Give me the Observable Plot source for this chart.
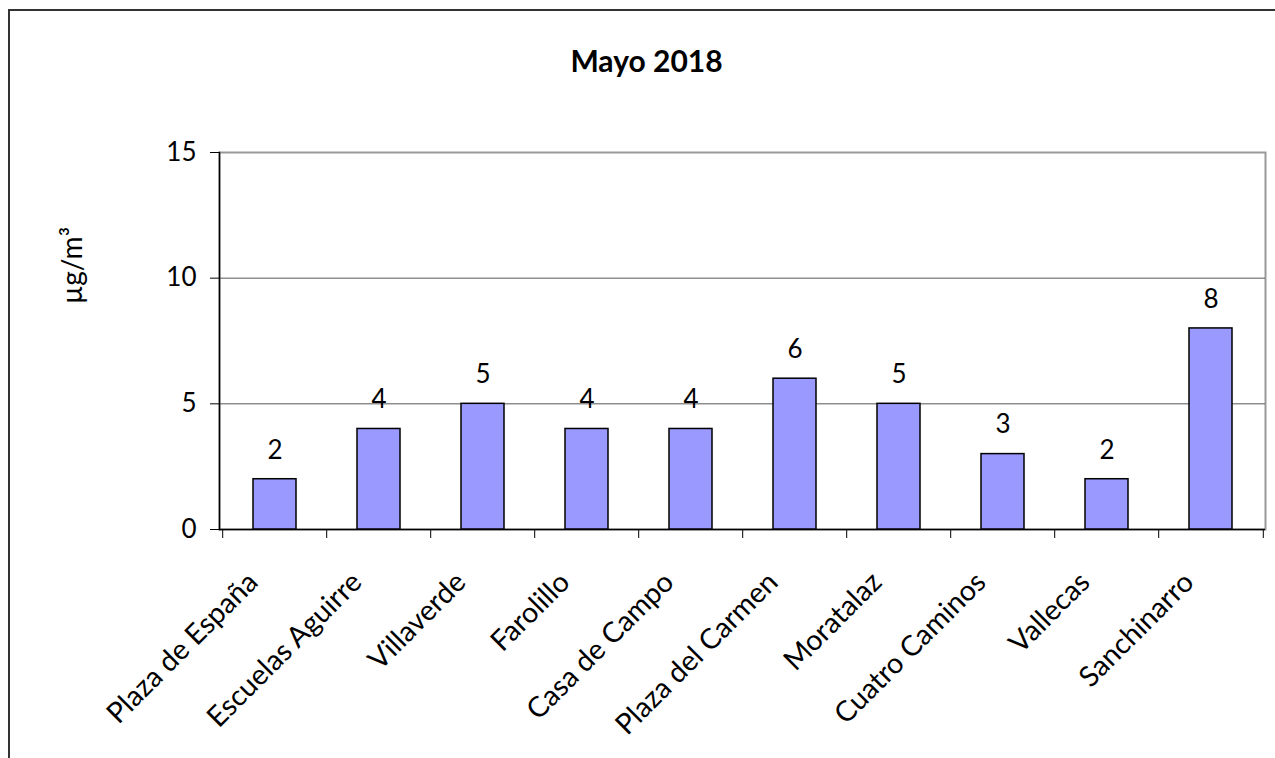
<!DOCTYPE html>
<html><head><meta charset="utf-8">
<script src="https://cdn.jsdelivr.net/npm/d3@7"></script>
<script src="https://cdn.jsdelivr.net/npm/@observablehq/plot@0.6"></script>
<style>
body{margin:0;background:#fff;font-family:Lato,sans-serif;overflow:hidden;}
#frame{position:absolute;left:8px;top:9px;width:1300px;height:800px;border-left:2px solid #333;border-top:2px solid #333;}
#title{position:absolute;left:9px;top:42px;width:1275px;line-height:36px;text-align:center;font-weight:bold;font-size:30px;color:#000;}
#chart{position:absolute;left:0;top:110px;}
</style></head>
<body>
<div id="frame"></div>
<div id="title">Mayo 2018</div>
<div id="chart"></div>
<script>
const stations = ["Plaza de España","Escuelas Aguirre","Villaverde","Farolillo","Casa de Campo","Plaza del Carmen","Moratalaz","Cuatro Caminos","Vallecas","Sanchinarro"];
const values = [2,4,5,4,4,6,5,3,2,8];
const yTicks = [0,5,10,15];
const gridValues = [5,10];
const yLabel = "µg/m³";

const data = stations.map((s,i)=>({station:s, value:values[i]}));
const W = 1275, mL = 219, mR = 10;
const step = (W - mL - mR) / stations.length;

const chart = Plot.plot({
  width: W, height: 648,
  marginLeft: mL, marginRight: mR, marginTop: 42, marginBottom: 229,
  style: {fontFamily: "Lato, sans-serif", fontSize: "26px", color: "#000", background: "transparent", overflow: "visible"},
  x: {domain: stations, paddingInner: 0.59, paddingOuter: 0.295, axis: null, label: null},
  y: {domain: [0, 15], axis: null, label: null},
  marks: [
    Plot.frame({stroke: "#999", strokeWidth: 2}),
    Plot.ruleY(gridValues, {stroke: "#555", strokeWidth: 1}),
    Plot.frame({anchor: "left", stroke: "#000", strokeWidth: 1.5}),
    Plot.ruleY([0], {stroke: "#000", strokeWidth: 1.5}),
    Plot.axisY(yTicks, {tickSize: 9, tickPadding: 14, fontSize: 26, label: null}),
    Plot.axisX({tickSize: 9, tickFormat: () => "", dx: -step / 2, label: null}),
    Plot.axisX([stations[stations.length - 1]], {tickSize: 9, tickFormat: () => "", dx: step / 2, label: null}),
    Plot.axisX({tickSize: 0, tickRotate: -45, tickPadding: 10, fontSize: 28.5, dx: -22, dy: 38, label: null}),
    Plot.barY(data, {x: "station", y: "value", fill: "#9999FF", stroke: "#000", strokeWidth: 1.5}),
    Plot.text(data, {x: "station", y: "value", text: d => String(d.value), dy: -29, fontSize: 26}),
    Plot.text([yLabel], {frameAnchor: "left", rotate: -90, dx: -146, dy: -37, fontSize: 28})
  ]
});
document.getElementById("chart").appendChild(chart);
</script>
</body></html>
